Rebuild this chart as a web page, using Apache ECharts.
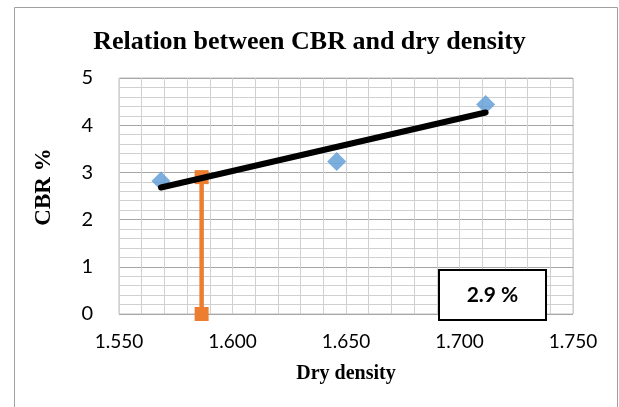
<!DOCTYPE html>
<html>
<head>
<meta charset="utf-8">
<script src="https://cdn.jsdelivr.net/npm/echarts@6/dist/echarts.min.js"></script>
<style>
html,body{margin:0;padding:0;background:#fff;}
#chart{width:619px;height:407px;}
</style>
</head>
<body>
<div id="chart"></div>
<script>
// Data
const titleText = 'Relation between CBR and dry density';
const xAxisName = 'Dry density';
const yAxisName = 'CBR %';
const cbrPoints = [[1.5685, 2.82], [1.6459, 3.23], [1.7115, 4.44]];   // blue diamonds
const trendLine = [[1.5685, 2.68], [1.7115, 4.27]];                   // black linear trend
const readLine = [[1.5864, 0], [1.5864, 2.9]];                        // orange reading line
const annotationText = '2.9 %';
const xTicks = { min: 1.55, max: 1.75, interval: 0.05 };
const yTicks = { min: 0, max: 5, interval: 1 };

const chart = echarts.init(document.getElementById('chart'), null, { renderer: 'canvas' });
const labelFont = 'Lato, "Open Sans", sans-serif';
const serif = '"Liberation Serif", "DejaVu Serif", serif';

chart.setOption({
  animation: false,
  backgroundColor: '#ffffff',
  title: {
    text: titleText,
    left: 'center',
    top: 24,
    textStyle: { fontFamily: serif, fontWeight: 'bold', fontSize: 26, color: '#000' }
  },
  grid: {
    left: 119, top: 78, width: 454, height: 236,
    show: true, borderColor: '#bfbfbf', borderWidth: 1, containLabel: false
  },
  xAxis: {
    type: 'value',
    min: xTicks.min, max: xTicks.max, interval: xTicks.interval,
    name: xAxisName, nameLocation: 'middle', nameGap: 50,
    nameTextStyle: { fontFamily: serif, fontWeight: 'bold', fontSize: 20, color: '#000' },
    axisLine: { show: false },
    axisTick: { show: false },
    axisLabel: {
      margin: 18, fontFamily: labelFont, fontSize: 19, color: '#000',
      formatter: v => v.toFixed(3)
    },
    splitLine: { show: true, lineStyle: { color: '#d0d0d0', width: 1 } },
    minorTick: { show: false, splitNumber: 5 },
    minorSplitLine: { show: true, lineStyle: { color: '#d0d0d0', width: 1 } }
  },
  yAxis: {
    type: 'value',
    min: yTicks.min, max: yTicks.max, interval: yTicks.interval,
    name: yAxisName, nameLocation: 'middle', nameGap: 63, nameRotate: 90,
    nameTextStyle: { fontFamily: serif, fontWeight: 'bold', fontSize: 23, color: '#000', padding: [0, 0, 0, 18] },
    axisLine: { show: false },
    axisTick: { show: false },
    axisLabel: { margin: 26, fontFamily: labelFont, fontSize: 20, color: '#000' },
    splitLine: { show: true, lineStyle: { color: '#a6a6a6', width: 1 } },
    minorTick: { show: false, splitNumber: 5 },
    minorSplitLine: { show: true, lineStyle: { color: '#d0d0d0', width: 1 } }
  },
  series: [
    {
      name: 'CBR',
      type: 'scatter',
      data: cbrPoints,
      symbol: 'diamond',
      symbolSize: 19,
      itemStyle: { color: '#5b9bd5' },
      z: 2
    },
    {
      name: 'Reading',
      type: 'line',
      data: readLine,
      symbol: 'rect',
      symbolSize: 14,
      showSymbol: true,
      itemStyle: { color: '#ed7d31' },
      lineStyle: { color: '#ed7d31', width: 4.5 },
      z: 3
    },
    {
      name: 'Trend',
      type: 'line',
      data: trendLine,
      showSymbol: false,
      symbol: 'none',
      lineStyle: { color: '#000', width: 6, cap: 'round' },
      z: 4
    }
  ],
  graphic: [
    {
      type: 'rect',
      left: 12, top: 5,
      shape: { width: 603, height: 400 },
      style: { fill: 'none', stroke: '#a0a0a0', lineWidth: 1 },
      zlevel: 1, silent: true
    },
    {
      type: 'group',
      left: 438, top: 269,
      zlevel: 1,
      children: [
        {
          type: 'rect',
          shape: { x: 0, y: 0, width: 107, height: 50 },
          style: { fill: '#fff', stroke: '#000', lineWidth: 2 },
          zlevel: 1
        },
        {
          type: 'text',
          x: 53.5, y: 25,
          zlevel: 1, z: 5,
          style: {
            text: annotationText, fill: '#000',
            font: 'bold 21px ' + labelFont,
            align: 'center', verticalAlign: 'middle'
          }
        }
      ]
    }
  ]
});
</script>
</body>
</html>
